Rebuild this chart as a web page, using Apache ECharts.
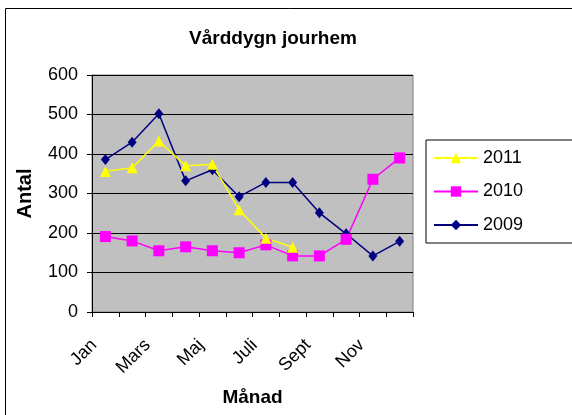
<!DOCTYPE html>
<html>
<head>
<meta charset="utf-8">
<script src="https://cdn.jsdelivr.net/npm/echarts@6/dist/echarts.min.js"></script>
<style>
html, body { margin: 0; padding: 0; background: #fff; }
#chart { width: 572px; height: 415px; }
</style>
</head>
<body>
<div id="chart"></div>
<script>
var chart = echarts.init(document.getElementById('chart'), null, { renderer: 'canvas' });

var months = ['Jan', 'Feb', 'Mars', 'Apr', 'Maj', 'Jun', 'Juli', 'Aug', 'Sept', 'Okt', 'Nov', 'Dec'];
var y2011 = [356, 365, 433, 370, 374, 259, 187, 164, null, null, null, null];
var y2010 = [191, 180, 155, 165, 155, 150, 170, 142, 142, 184, 336, 390];
var y2009 = [386, 430, 502, 332, 360, 292, 328, 328, 251, 198, 142, 179];
var yTicks = [0, 100, 200, 300, 400, 500, 600];

var font = 'Liberation Sans, Arial, sans-serif';

chart.setOption({
    animation: false,
    backgroundColor: '#fff',
    graphic: [{
        type: 'rect',
        shape: { x: 5.5, y: 8.5, width: 600, height: 450 },
        style: { fill: 'none', stroke: '#000', lineWidth: 1 }
    }],
    title: {
        text: 'Vårddygn jourhem',
        left: 268,
        textAlign: 'center',
        top: 24,
        textStyle: { fontFamily: font, fontSize: 19, fontWeight: 'bold', color: '#000' }
    },
    legend: {
        data: ['2011', '2010', '2009'],
        orient: 'vertical',
        left: 426,
        top: 140,
        padding: [8, 60, 8, 7],
        itemWidth: 44,
        itemHeight: 13,
        itemGap: 13.5,
        borderColor: '#000',
        borderWidth: 1,
        backgroundColor: '#fff',
        textStyle: { fontFamily: font, fontSize: 18, color: '#000', lineHeight: 20 }
    },
    grid: {
        left: 92,
        top: 75,
        width: 321,
        height: 237,
        show: true,
        backgroundColor: '#c0c0c0',
        borderColor: '#808080',
        borderWidth: 1
    },
    xAxis: {
        type: 'category',
        data: months,
        boundaryGap: true,
        name: 'Månad',
        nameLocation: 'middle',
        nameGap: 76,
        nameTextStyle: { fontFamily: font, fontSize: 19, fontWeight: 'bold', color: '#000' },
        axisLine: { lineStyle: { color: '#000', width: 1 } },
        axisTick: { show: true, interval: 0, length: 5, lineStyle: { color: '#000' } },
        axisLabel: {
            interval: 1,
            rotate: 45,
            margin: 19,
            padding: [0, 16, 0, 0],
            fontFamily: font,
            fontSize: 18,
            color: '#000'
        }
    },
    yAxis: {
        type: 'value',
        min: yTicks[0],
        max: yTicks[yTicks.length - 1],
        interval: 100,
        name: 'Antal',
        nameLocation: 'middle',
        nameGap: 57,
        nameTextStyle: { fontFamily: font, fontSize: 20, fontWeight: 'bold', color: '#000' },
        axisLine: { show: true, lineStyle: { color: '#000', width: 1 } },
        axisTick: { show: true, length: 5, lineStyle: { color: '#000' } },
        axisLabel: { margin: 14, fontFamily: font, fontSize: 18, color: '#000' },
        splitLine: { show: true, lineStyle: { color: '#000', width: 1 } }
    },
    series: [
        {
            name: '2009',
            type: 'line',
            data: y2009,
            symbol: 'diamond',
            symbolSize: [9, 11],
            itemStyle: { color: '#000080' },
            lineStyle: { color: '#000080', width: 1.5 }
        },
        {
            name: '2010',
            type: 'line',
            data: y2010,
            symbol: 'rect',
            symbolSize: 11,
            itemStyle: { color: '#ff00ff' },
            lineStyle: { color: '#ff00ff', width: 1.5 }
        },
        {
            name: '2011',
            type: 'line',
            data: y2011,
            symbol: 'triangle',
            symbolSize: 11,
            itemStyle: { color: '#ffff00' },
            lineStyle: { color: '#ffff00', width: 1.5 }
        }
    ]
});
</script>
</body>
</html>
